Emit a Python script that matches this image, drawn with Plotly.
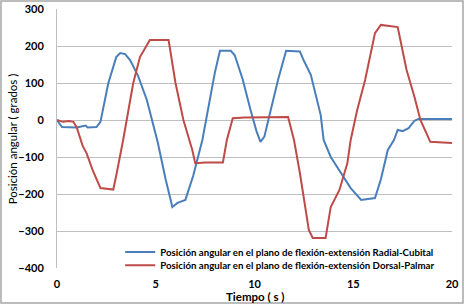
import plotly.graph_objects as go

# Radial-Cubital (blue)
t_rc = [0.0, 0.25, 1.0, 1.45, 1.55, 2.0, 2.2, 2.6, 3.0, 3.2, 3.45, 3.7, 4.1, 4.55, 5.1, 5.5, 5.84, 6.1, 6.5, 6.9, 7.36, 7.7, 8.0, 8.25, 8.8, 9.0, 9.4, 9.8, 10.1, 10.3, 10.5, 10.7, 11.2, 11.6, 12.3, 12.5, 12.85, 13.35, 13.5, 13.86, 14.37, 14.87, 15.4, 16.1, 16.4, 16.75, 17.06, 17.25, 17.5, 17.8, 18.1, 18.3, 20.0]
v_rc = [0, -19, -20, -15, -20, -19, -5, 100, 170, 181, 178, 162, 120, 54, -60, -160, -235, -224, -216, -150, -54, 40, 130, 187, 187, 175, 110, 27, -30, -59, -45, 0, 110, 187, 185, 160, 122, 14, -54, -100, -144, -184, -216, -211, -160, -81, -54, -27, -30, -22, -2, 3, 3]

# Dorsal-Palmar (red)
t_dp = [0.0, 0.3, 0.6, 0.83, 1.0, 1.3, 1.5, 1.8, 2.2, 2.85, 3.0, 3.2, 3.35, 3.86, 4.2, 4.7, 5.65, 6.0, 6.4, 6.85, 7.0, 7.5, 8.4, 8.6, 8.9, 9.5, 11.7, 12.0, 12.3, 12.75, 12.95, 13.6, 13.86, 14.3, 14.7, 14.87, 15.2, 15.6, 16.1, 16.4, 17.25, 17.7, 18.1, 18.4, 18.9, 20.0]
v_dp = [0, -5, -3, -5, -20, -70, -90, -135, -184, -188, -150, -100, -54, 100, 170, 216, 216, 100, 0, -81, -117, -115, -115, -54, 5, 7, 8, -54, -144, -297, -319, -319, -235, -189, -117, -54, 27, 108, 235, 257, 251, 135, 62, 0, -59, -62]

x_ticks = [0, 5, 10, 15, 20]
y_ticks = [-400, -300, -200, -100, 0, 100, 200, 300]

name_rc = "Posición angular en el plano de flexión-extensión Radial-Cubital"
name_dp = "Posición angular en el plano de flexión-extensión Dorsal-Palmar"
x_title = "Tiempo ( s )"
y_title = "Posición angular ( grados )"

FONT = "Lato"

fig = go.Figure()
fig.add_trace(go.Scatter(x=t_rc, y=v_rc, mode="lines", name=name_rc, legend="legend",
                         line=dict(color="#4a7ebb", width=2)))
fig.add_trace(go.Scatter(x=t_dp, y=v_dp, mode="lines", name=name_dp, legend="legend2",
                         line=dict(color="#be4b48", width=2)))

legend_font = dict(family=FONT, size=9.7, color="#000000", weight="bold")

fig.update_layout(
    width=464, height=305,
    margin=dict(l=57, r=12, t=9, b=37, autoexpand=False),
    paper_bgcolor="white", plot_bgcolor="white",
    font=dict(family=FONT, color="#000000"),
    showlegend=True,
    legend=dict(x=0.16, y=0.118, xanchor="left", yanchor="top",
                bgcolor="rgba(0,0,0,0)", itemwidth=30, font=legend_font),
    legend2=dict(x=0.16, y=0.067, xanchor="left", yanchor="top",
                 bgcolor="rgba(0,0,0,0)", itemwidth=30, font=legend_font),
    xaxis=dict(range=[0, 20], tickvals=x_ticks, showgrid=False, zeroline=False,
               showline=False, ticks="", ticklabelstandoff=8, automargin=False,
               tickfont=dict(family=FONT, size=11, weight="bold")),
    yaxis=dict(range=[-400, 300], tickvals=y_ticks, showgrid=True, gridcolor="#bfbfbf",
               gridwidth=1, zeroline=False, showline=True, linecolor="#bfbfbf", linewidth=1,
               ticks="", ticklabelstandoff=10, automargin=False,
               tickfont=dict(family=FONT, size=11, weight="bold")),
)

fig.add_annotation(text="<b>" + x_title + "</b>", xref="paper", yref="paper",
                   x=0.5, y=-0.11, xanchor="center", yanchor="middle", showarrow=False,
                   font=dict(family=FONT, size=11.5, color="#000000"))
fig.add_annotation(text=y_title, xref="paper", yref="paper", textangle=-90,
                   x=-0.112, y=0.5, xanchor="center", yanchor="middle", showarrow=False,
                   font=dict(family=FONT, size=11.5, color="#000000"))

fig.add_shape(type="rect", xref="paper", yref="paper",
              x0=-0.1418, x1=1.0278, y0=-0.1351, y1=1.0309,
              line=dict(color="#a6a6a6", width=1.5), layer="below")

fig.write_html("out.html", config={"displayModeBar": False},
               post_script="document.body.style.margin='0';document.body.style.overflow='hidden';")
